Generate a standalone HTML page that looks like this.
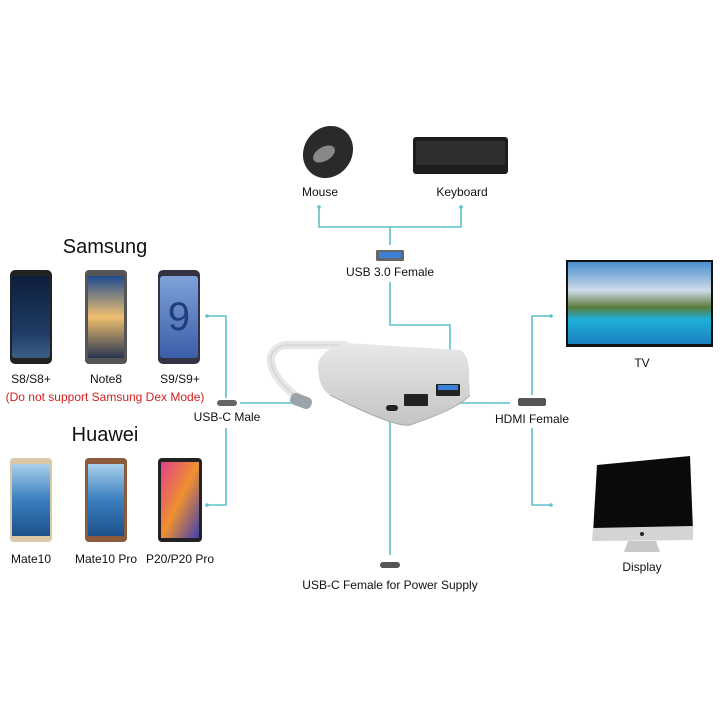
<!DOCTYPE html>
<html><head><meta charset="utf-8"><style>
html,body{margin:0;padding:0;background:#fff;}
svg{display:block;font-family:"Liberation Sans",sans-serif;}
</style></head><body>
<svg width="720" height="720" viewBox="0 0 720 720" xmlns="http://www.w3.org/2000/svg">
<defs>
<linearGradient id="s8" x1="0" y1="0" x2="0" y2="1"><stop offset="0" stop-color="#0d1e3a"/><stop offset="0.7" stop-color="#1f3d66"/><stop offset="1" stop-color="#3d5f85"/></linearGradient>
<linearGradient id="n8" x1="0" y1="0" x2="0" y2="1"><stop offset="0" stop-color="#1e4b8f"/><stop offset="0.5" stop-color="#f0c070"/><stop offset="1" stop-color="#2a3550"/></linearGradient>
<linearGradient id="s9" x1="0" y1="0" x2="0" y2="1"><stop offset="0" stop-color="#7ea2d8"/><stop offset="1" stop-color="#3a5ea8"/></linearGradient>
<linearGradient id="mt" x1="0" y1="0" x2="0" y2="1"><stop offset="0" stop-color="#a8d0ea"/><stop offset="0.5" stop-color="#3a7fc0"/><stop offset="1" stop-color="#1d4f8a"/></linearGradient>
<linearGradient id="p20" x1="0" y1="0" x2="1" y2="1"><stop offset="0" stop-color="#e0408a"/><stop offset="0.5" stop-color="#f09030"/><stop offset="1" stop-color="#4040b0"/></linearGradient>
<linearGradient id="tv" x1="0" y1="0" x2="0" y2="1"><stop offset="0" stop-color="#4a8fd0"/><stop offset="0.35" stop-color="#cfdbe8"/><stop offset="0.55" stop-color="#5a7a3a"/><stop offset="0.7" stop-color="#20b0d8"/><stop offset="1" stop-color="#1880c0"/></linearGradient>
<linearGradient id="al" x1="0" y1="0" x2="0" y2="1"><stop offset="0" stop-color="#e8e8e8"/><stop offset="1" stop-color="#c4c4c4"/></linearGradient>
</defs>

<!-- connector lines -->
<g stroke="#5cc1c9" stroke-width="1.6" fill="none">
<polyline points="319,207 319,227 461,227 461,207"/>
<line x1="390" y1="227" x2="390" y2="245"/>
<polyline points="390,282 390,325 450,325 450,398"/>
<polyline points="207,316 226,316 226,398"/>
<polyline points="207,505 226,505 226,428"/>
<line x1="240" y1="403" x2="300" y2="403"/>
<line x1="428" y1="403" x2="510" y2="403"/>
<polyline points="551,316 532,316 532,395"/>
<polyline points="551,505 532,505 532,428"/>
<line x1="390" y1="418" x2="390" y2="555"/>
</g>
<g fill="#5cc1c9"><circle cx="319" cy="207" r="1.8"/><circle cx="461" cy="207" r="1.8"/><circle cx="207" cy="316" r="1.8"/><circle cx="207" cy="505" r="1.8"/><circle cx="551" cy="316" r="1.8"/><circle cx="551" cy="505" r="1.8"/></g>

<!-- port icons -->
<rect x="376" y="250" width="28" height="11" rx="1.5" fill="#666"/><rect x="379" y="252" width="22" height="6" fill="#3a7fd8"/>
<rect x="217" y="400" width="20" height="6" rx="3" fill="#666"/>
<rect x="518" y="398" width="28" height="8" rx="2" fill="#555"/>
<rect x="380" y="562" width="20" height="6" rx="3" fill="#555"/>

<!-- adapter -->
<path d="M302,400 C270,380 260,350 285,345 L345,345" stroke="#e6e6e6" stroke-width="8" fill="none" stroke-linecap="round"/>
<path d="M302,400 C270,380 260,350 285,345 L345,345" stroke="#cfcfcf" stroke-width="1" fill="none"/>
<rect x="290" y="395" width="22" height="12" rx="5" fill="#9aa4aa" transform="rotate(20 301 401)"/>
<path d="M318,365 Q320,350 345,343 L460,350 Q470,355 469,378 L470,395 Q460,408 410,425 Q395,428 330,395 Q318,388 318,365 Z" fill="url(#al)"/>
<path d="M330,395 Q395,428 410,425 Q460,408 470,395" stroke="#aaa" fill="none"/>
<rect x="386" y="405" width="12" height="6" rx="3" fill="#222"/>
<rect x="404" y="394" width="24" height="12" rx="1" fill="#222"/>
<rect x="436" y="384" width="24" height="12" rx="1" fill="#222"/><rect x="438" y="385" width="20" height="5" fill="#3a7fd8"/>

<!-- phones row 1 -->
<rect x="10" y="270" width="42" height="94" rx="5" fill="#222"/><rect x="12" y="276" width="38" height="82" rx="3" fill="url(#s8)"/>
<rect x="85" y="270" width="42" height="94" rx="4" fill="#555"/><rect x="88" y="276" width="36" height="82" fill="url(#n8)"/>
<rect x="158" y="270" width="42" height="94" rx="5" fill="#334"/><rect x="160" y="276" width="38" height="82" rx="3" fill="url(#s9)"/>
<text x="179" y="330" font-size="40" fill="#1e3d7a" text-anchor="middle">9</text>
<!-- phones row 2 -->
<rect x="10" y="458" width="42" height="84" rx="4" fill="#d8c8a8"/><rect x="12" y="464" width="38" height="72" fill="url(#mt)"/>
<rect x="85" y="458" width="42" height="84" rx="4" fill="#8a5a3a"/><rect x="88" y="464" width="36" height="72" fill="url(#mt)"/>
<rect x="158" y="458" width="44" height="84" rx="4" fill="#222"/><rect x="161" y="462" width="38" height="76" fill="url(#p20)"/>

<g font-size="12" fill="#111" text-anchor="middle">
<text x="105" y="253" font-size="20">Samsung</text>
<text x="105" y="441" font-size="20">Huawei</text>
<text x="31" y="383">S8/S8+</text><text x="106" y="383">Note8</text><text x="180" y="383">S9/S9+</text>
<text x="105" y="401" fill="#d42020">(Do not support Samsung Dex Mode)</text>
<text x="31" y="563">Mate10</text><text x="106" y="563">Mate10 Pro</text><text x="180" y="563">P20/P20 Pro</text>
<text x="227" y="421">USB-C Male</text>
<text x="320" y="196">Mouse</text><text x="462" y="196">Keyboard</text>
<text x="390" y="276">USB 3.0 Female</text>
<text x="532" y="423">HDMI Female</text>
<text x="642" y="367">TV</text><text x="642" y="571">Display</text>
<text x="390" y="589">USB-C Female for Power Supply</text>
</g>

<!-- mouse -->
<ellipse cx="328" cy="152" rx="24" ry="27" fill="#2a2a2a" transform="rotate(35 328 152)"/>
<ellipse cx="324" cy="154" rx="12" ry="7" fill="#888" transform="rotate(-30 324 154)"/>
<!-- keyboard -->
<rect x="413" y="137" width="95" height="37" rx="3" fill="#1d1d1d"/>
<rect x="416" y="141" width="89" height="24" fill="#3a3a3a" opacity="0.6"/>
<!-- TV -->
<rect x="566" y="260" width="147" height="87" fill="#111"/><rect x="568" y="262" width="143" height="82" fill="url(#tv)"/>
<!-- monitor -->
<path d="M597,465 L690,456 L693,530 L593,533 Z" fill="#0a0a0a"/>
<path d="M593,528 L693,526 L693,540 L592,541 Z" fill="#d4d4d4"/>
<circle cx="642" cy="534" r="2" fill="#222"/>
<path d="M628,541 L656,541 L660,552 L624,552 Z" fill="#c8c8c8"/>
</svg>
</body></html>
